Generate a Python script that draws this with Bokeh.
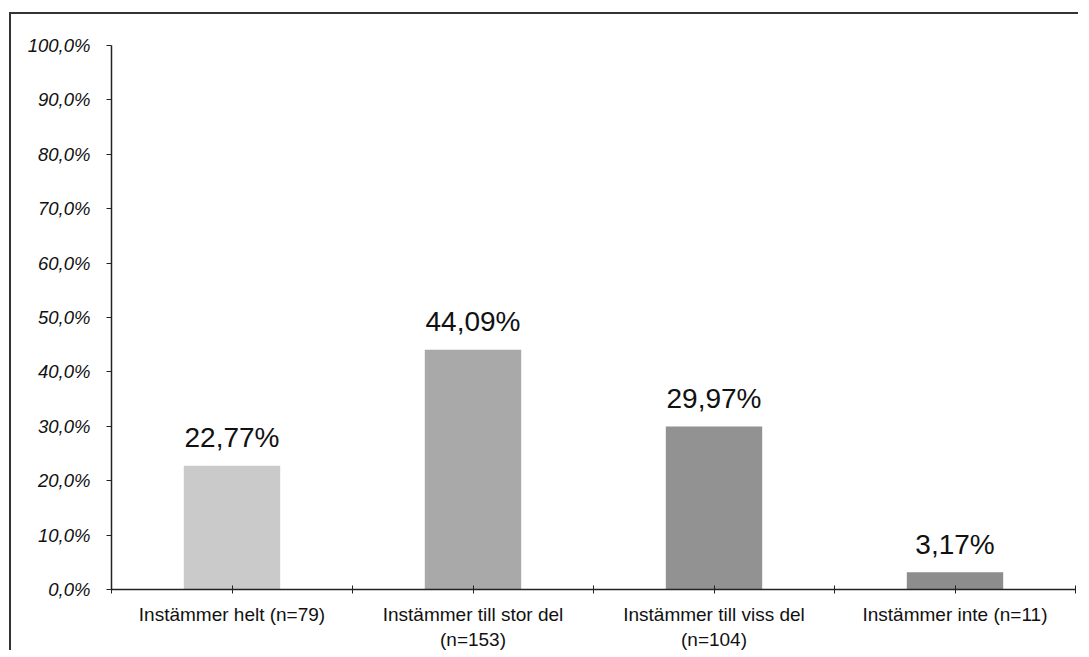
from bokeh.plotting import figure
from bokeh.models import ColumnDataSource, FixedTicker, Range1d
from bokeh.core.properties import value
from bokeh.embed import file_html
from bokeh.resources import INLINE

categories = ["Instämmer helt (n=79)", "Instämmer till stor del\n(n=153)",
              "Instämmer till viss del\n(n=104)", "Instämmer inte (n=11)"]
percent = [22.77, 44.09, 29.97, 3.17]
value_labels = ["22,77%", "44,09%", "29,97%", "3,17%"]
bar_colors = ["#cacaca", "#a9a9a9", "#929292", "#8d8d8d"]
y_ticks = [0, 10, 20, 30, 40, 50, 60, 70, 80, 90, 100]
y_tick_labels = ["0,0%", "10,0%", "20,0%", "30,0%", "40,0%", "50,0%",
                 "60,0%", "70,0%", "80,0%", "90,0%", "100,0%"]

FONT = "Liberation Sans"
centers = [i + 0.5 for i in range(len(categories))]
src = ColumnDataSource(dict(x=centers, top=percent, color=bar_colors, label=value_labels))

p = figure(width=1069, height=638, output_backend="svg", toolbar_location=None,
           x_range=Range1d(0, 4), y_range=Range1d(0, 100),
           min_border_left=100, min_border_right=5, min_border_top=31, min_border_bottom=63)
p.styles = {"margin-top": "12px", "margin-left": "9px",
            "border-top": "2px solid #333", "border-left": "2px solid #333"}
p.outline_line_color = None
p.grid.visible = False

p.vbar(x="x", top="top", width=0.4, bottom=0, fill_color="color", line_color=None, source=src)
p.text(x="x", y="top", text="label", source=src, text_align="center", text_baseline="alphabetic",
       y_offset=-28, text_font=value(FONT), text_font_size="28px", text_color="#111111")

# y axis
ya = p.yaxis[0]
ya.ticker = FixedTicker(ticks=y_ticks)
ya.major_label_overrides = {t: l for t, l in zip(y_ticks, y_tick_labels)}
ya.major_label_text_font = FONT
ya.major_label_text_font_style = "italic"
ya.major_label_text_font_size = "18.5px"
ya.major_label_text_color = "#111111"
ya.major_tick_in = 0
ya.major_tick_out = 5
ya.minor_tick_line_color = None
ya.axis_line_color = "#222222"
ya.axis_line_width = 1.5
ya.major_tick_line_color = "#222222"
ya.major_label_standoff = 16

# x axis
xa = p.xaxis[0]
bounds = [0, 1, 2, 3, 4]
xa.ticker = FixedTicker(ticks=sorted(bounds + centers))
overrides = {b: "" for b in bounds}
overrides.update({c: l for c, l in zip(centers, categories)})
xa.major_label_overrides = overrides
xa.major_label_text_font = FONT
xa.major_label_text_font_size = "19px"
xa.major_label_text_color = "#111111"
xa.major_tick_in = 4
xa.major_tick_out = 4
xa.minor_tick_line_color = None
xa.axis_line_color = "#222222"
xa.axis_line_width = 1.5
xa.major_tick_line_color = "#222222"
xa.major_label_standoff = 10

open("out.html", "w").write(file_html(p, INLINE))
